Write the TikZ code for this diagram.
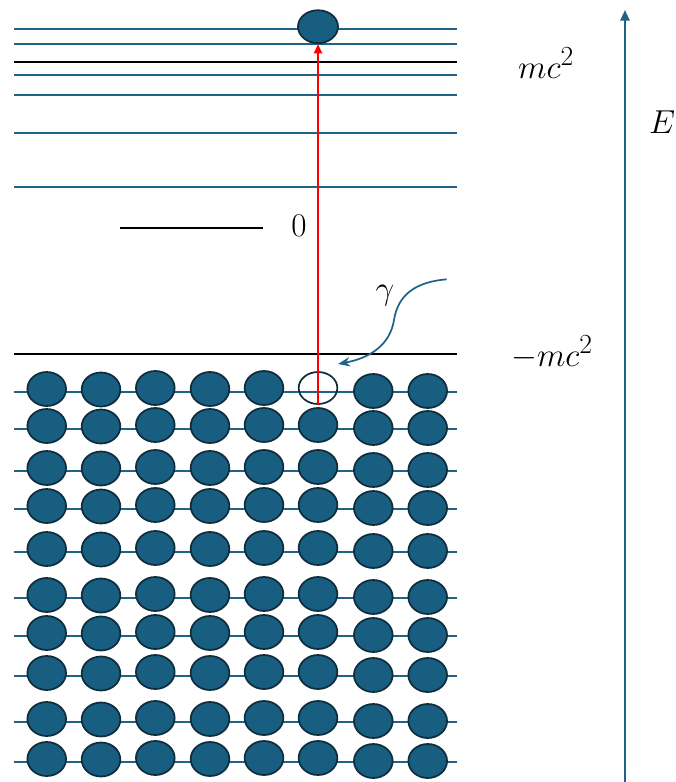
\documentclass[tikz,border=0pt]{standalone}
\usepackage{amsmath, amssymb}
\usepackage{xcolor}
\usepackage{tikz}
\usetikzlibrary{arrows.meta, shapes.geometric}

\definecolor{levelblue}{HTML}{1F6486}
\definecolor{dotblue}{HTML}{185E80}
\definecolor{dotedge}{HTML}{0F2D3C}

\begin{document}
\begin{tikzpicture}[x=0.75pt, y=-0.75pt, >=stealth,
    level/.style={draw=levelblue, line width=1.5pt},
    blackline/.style={draw=black, line width=1.6pt},
    electron/.style={ellipse, draw=dotedge, line width=1.3pt, fill=dotblue,
        minimum width=29pt, minimum height=25.5pt, inner sep=0pt},
    hole/.style={ellipse, draw=dotedge, line width=1.3pt,
        minimum width=29pt, minimum height=24pt, inner sep=0pt},
    lbl/.style={font=\Huge}]
    \useasboundingbox (0,0) rectangle (675,782);

    % Các mức năng lượng dương
    \foreach \y in {29.3, 44, 74.7, 95.3, 133.3, 187.3}
        \draw[level] (14,\y) -- (457,\y);
    \draw[blackline] (14,61.7) -- (457,61.7);   % mức mc^2
    \draw[blackline] (120,227.7) -- (263,227.7); % mức 0
    \draw[blackline] (14,354) -- (457,354);     % mức -mc^2

    % Biển Dirac: các electron ở mức năng lượng âm
    \foreach \r/\y in {1/392, 2/429, 3/471, 4/509, 5/552, 6/598, 7/636, 8/676, 9/722, 10/762} {
        \draw[level] (14,\y) -- (457,\y);
        \foreach \c/\x/\d in {1/46.7/-3, 2/101/-2.5, 3/155.3/-4, 4/210/-3, 5/264/-4, 6/318/-4, 7/373.3/-1, 8/427.7/-1} {
            \ifnum\r\c=16
                \node[hole] (hole) at (\x,\y+\d) {};
            \else
                \node[electron] (e-\r-\c) at (\x,\y+\d) {};
            \fi
        }
    }

    % Electron bị kích thích lên mức dương
    \node[electron, minimum width=30pt, minimum height=24.7pt] (top) at (318,26.7) {};
    \draw[red, line width=1.5pt, -{Triangle[length=7pt, width=6pt]}] (hole.south) -- (top.south);

    % Photon gamma
    \coordinate (gsrc) at (446.7,279.3);
    \coordinate (gdst) at (338,364);
    \draw[levelblue, line width=1.3pt, -{Stealth[length=9pt, width=7pt]}]
        (gsrc) .. controls (415,282) and (398,295) .. (394,320)
        .. controls (390,345) and (370,358) .. (gdst);
    \node[lbl] (gam) at (385,296) {$\gamma$};

    % Trục năng lượng
    \coordinate (ebot) at (625,782);
    \coordinate (etop) at (625,10);
    \draw[levelblue, line width=1.5pt, -{Triangle[length=8pt, width=7pt]}] (ebot) -- (etop);

    % Nhãn
    \node[lbl, anchor=base] (mc) at (546,78) {$mc^2$};
    \node[lbl, anchor=base] (mmc) at (552,366) {$-mc^2$};
    \node[lbl, anchor=base] (en) at (662,133) {$E$};
    \node[lbl, anchor=base] (zero) at (299,236) {$0$};
\end{tikzpicture}
\end{document}
